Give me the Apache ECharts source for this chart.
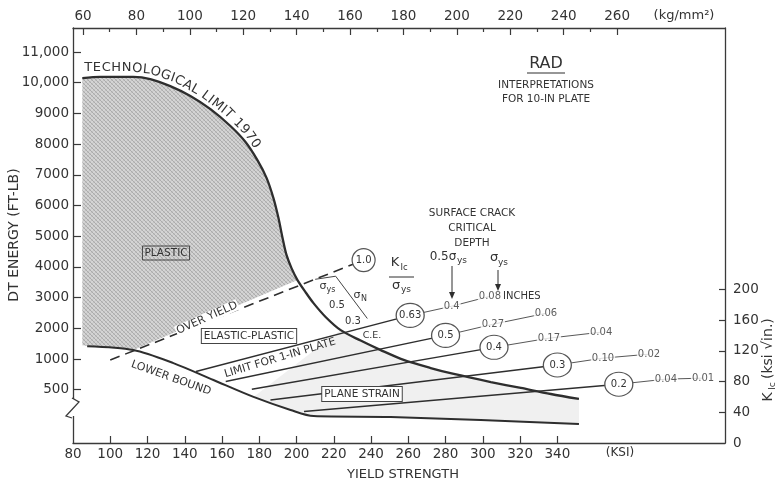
<!DOCTYPE html>
<html><head><meta charset="utf-8">
<script src="https://cdn.jsdelivr.net/npm/echarts@6/dist/echarts.min.js"></script>
<style>html,body{margin:0;padding:0;background:#fff}#c{width:779px;height:484px}</style>
</head><body><div id="c"></div>
<script>
// ---------------- data ----------------
const ksiTicks   = [80,100,120,140,160,180,200,220,240,260,280,300,320,340];
const ksiMarks   = [100,120,140,160,180,200,220,240,260,280,300,320,340];
const kgTicks    = [60,80,100,120,140,160,180,200,220,240,260];
const kgMinor    = [70,90,110,130,150,170,190,210,230,250];
const dtTicks    = [500,1000,2000,3000,4000,5000,6000,7000,8000,9000,10000,11000];
const kicTicks   = [0,40,80,120,160,200];

// technological limit 1970: [yield strength ksi, DT energy ft-lb]
const techLimit = [[85,10150],[94.6,10190],[105.4,10190],[112.4,10190],[121.5,10120],[132.2,9890],[143,9570],[153.8,9140],[164.5,8590],[172.6,8070],[179,7480],[183.9,6900],[187.6,6240],[190.3,5590],[192.5,4940],[194.6,4390],[197.3,3960],[200.5,3570],[204.8,3180],[209.1,2820],[215.6,2370],[223.7,1940],[234.4,1600],[245.2,1290],[257.5,985],[272,853],[284.4,756],[304.3,625],[320.4,528],[336.5,430],[351.6,349]];
// plastic region lower edge (over-yield line + lower bound), ft-lb
const plasticBase = [[112.4,1290],[100,1360],[88,1420],[85,1450]];
// lower bound curve: [ksi, K_Ic ksi*sqrt(in)]
const lowerBound = [[87.6,126],[112.4,121],[133.9,104],[155.4,82],[176.9,60],[196.8,43],[209.2,35],[250.5,33.8],[298.9,29.9],[351.6,24.7]];
// light plane-strain shading, [ksi, K_Ic]
const planeStrainShade = [[223.7,147],[245.2,121],[257.5,107],[284.4,89],[320.4,71],[351.6,57],[351.6,24.7],[298.9,29.9],[250.5,33.8],[209.2,35.1],[196.8,42.9],[176.9,59.8]];
// K_Ic / sigma_ys ratio lines [ksi, K_Ic]
const ratios      = ['1.0','0.63','0.5','0.4','0.3','0.2'];
const ratioStart  = [[100,108],[146,93],[162,80],[176,70],[186,56],[204,41]];
const ratioCircle = [[236,238],[261,166],[280,140],[306,124.5],[340,101.5],[373,76.5]];
// surface crack critical depth labels at 0.5 sigma_ys and sigma_ys (lines 0.63 .. 0.2)
const depthHalf       = [[283.3,178],[305.4,154.5],[335.5,136.4],[364.5,110.4],[398.3,83.1]];
const depthHalfLabels = ['0.4','0.27','0.17','0.10','0.04'];
const depthFull       = [[303.8,190.9],[333.9,168.8],[363.5,144.2],[389.2,115.6],[418.2,84.4]];
const depthFullLabels = ['0.08','0.06','0.04','0.02','0.01'];
// sigma_N bracket
const bracket = [[210,213],[221,217],[238,162]];

// DT axis is broken below 1000 ft-lb (500 takes a full step)
function toU(v){ return v >= 1000 ? v : 1000 - (1000 - v) * 2; }
function fromU(u){ return u >= 1000 ? u : 1000 - (1000 - u) / 2; }
function fmtDT(v){ v = Math.round(v); return v >= 10000 ? (v/1000) + ',000' : String(v); }

// ---------------- drawing ----------------
const F = '"DejaVu Sans", "Liberation Sans", sans-serif';
const INK = '#2e2e2e';
const chart = echarts.init(document.getElementById('c'), null, {renderer:'canvas'});

const pc = document.createElement('canvas'); pc.width = 4; pc.height = 4;
const pg = pc.getContext('2d');
pg.fillStyle = '#d4d4d4'; pg.fillRect(0,0,4,4);
for (let i=0;i<4;i++){ pg.fillStyle='#acacac'; pg.fillRect(i,i,1,1); pg.fillStyle='#c2c2c2'; pg.fillRect(i,3-i,1,1); }
const hatch = {image: pc, repeat: 'repeat'};

function T(x,y,text,size,o){
  o = o || {};
  const st = {text:text, fill:o.color||'#333', font:(o.weight||'normal')+' '+size+'px '+F,
    align:o.align||'center', verticalAlign:'middle'};
  if (o.box){ st.borderColor='#444'; st.borderWidth=1; st.padding=[2,2,1,2]; }
  if (o.bg){ st.backgroundColor=o.bg; if(!o.box) st.padding=[0,1]; }
  return {type:'text', x:x, y:y, rotation:o.rot||0, z:100, style:st};
}
function L(pts,w,o){ o=o||{}; return {type:'polyline', z:100, shape:{points:pts}, style:{stroke:o.color||INK, lineWidth:w, fill:null}}; }

const G = [];
// curved label along the technological limit
(function(){
  const txt = 'TECHNOLOGICAL LIMIT 1970';
  const path = [[84,68],[130,68],[150,70],[176,79],[203,94],[228,113],[247,132],[263,155]];
  const mc = document.createElement('canvas').getContext('2d');
  mc.font = '13px ' + F;
  function at(d){
    for (let i=0;i<path.length-1;i++){
      const dx=path[i+1][0]-path[i][0], dy=path[i+1][1]-path[i][1], l=Math.hypot(dx,dy);
      if (d<=l || i===path.length-2){ const t=d/l; return [path[i][0]+dx*t, path[i][1]+dy*t, Math.atan2(dy,dx)]; }
      d-=l;
    }
  }
  let d=0;
  for (const ch of txt){
    const w = mc.measureText(ch).width + 0.6;
    const p = at(d + w/2);
    if (ch !== ' ') G.push(T(p[0],p[1],ch,13,{rot:-p[2]}));
    d += w;
  }
})();
G.push(T(166,253,'PLASTIC',10.5,{box:true}));
G.push(T(249,336,'ELASTIC-PLASTIC',10.5,{box:true,bg:'#fff'}));
G.push(T(362,394,'PLANE STRAIN',10.5,{box:true,bg:'#fff'}));
G.push(T(207,318,'OVER YIELD',11,{rot:0.42,bg:'#fff'}));
G.push(T(280,358,'LIMIT FOR 1-IN PLATE',10.8,{rot:0.29}));
G.push(T(171,378,'LOWER BOUND',11,{rot:-0.34}));
G.push(T(372,336,'C.E.',9.5));
// sigma bracket labels
G.push(T(323,286,'σ',11), T(331,290,'ys',8));
G.push(T(357,295,'σ',11), T(364,299,'N',8));
G.push(T(337,305,'0.5',10), T(353,321,'0.3',10));
// title block
G.push(T(546,64,'RAD',16));
G.push(L([[527,73],[565,73]],1.2));
G.push(T(546,85,'INTERPRETATIONS',10.5));
G.push(T(546,99,'FOR 10-IN PLATE',10.5));
G.push(T(472,213,'SURFACE CRACK',10.5));
G.push(T(472,228,'CRITICAL',10.5));
G.push(T(472,243,'DEPTH',10.5));
G.push(T(443,257,'0.5σ',12), T(462,261,'ys',9));
G.push(T(494,258,'σ',13), T(503,263,'ys',9));
G.push(L([[452,266],[452,296]],1));
G.push({type:'polygon', z:100, shape:{points:[[449,292],[455,292],[452,299]]}, style:{fill:INK}});
G.push(L([[498,270],[498,288]],1));
G.push({type:'polygon', z:100, shape:{points:[[495,284],[501,284],[498,291]]}, style:{fill:INK}});
// K_Ic / sigma_ys
G.push(T(395,263,'K',13), T(404,268,'Ic',8.5));
G.push(L([[389,277],[414,277]],1));
G.push(T(396,286,'σ',13), T(406,290,'ys',9));
G.push(T(503,296,'INCHES',10,{align:'left'}));
// axis titles
G.push(T(620,453,'(KSI)',12));
G.push(T(403,475,'YIELD STRENGTH',13));
G.push(T(684,16,'(kg/mm²)',13));
G.push(T(14,235,'DT ENERGY (FT-LB)',14,{rot:Math.PI/2}));
G.push({type:'group', x:768, y:355, rotation:Math.PI/2, z:100, children:[
  {type:'text', x:-42, y:0, style:{text:'K', font:'14px '+F, fill:'#333', align:'center', verticalAlign:'middle'}},
  {type:'text', x:-31, y:5, style:{text:'Ic', font:'9px '+F, fill:'#333', align:'center', verticalAlign:'middle'}},
  {type:'text', x:-24, y:0, style:{text:'(ksi √in.)', font:'14px '+F, fill:'#333', align:'left', verticalAlign:'middle'}}
]});
// left axis break
G.push({type:'rect', z:99, shape:{x:68,y:399,width:8,height:17}, style:{fill:'#fff'}});
G.push(L([[72,398],[79,402],[66,416],[72,418]],1.3,{color:'#3a3a3a'}));

const axLine = {show:true, onZero:false, lineStyle:{color:'#3a3a3a', width:1.3}};
const tickSt = {color:'#3a3a3a', width:1.2};
const lab = {color:'#333', fontSize:13.5, fontFamily:F};

const series = [];
series.push({type:'custom', xAxisIndex:0, yAxisIndex:0, z:1, silent:true,
  data:[[techLimit[0][0], toU(techLimit[0][1])]],
  renderItem:function(params, api){
    const poly = techLimit.filter(p=>p[0]<=200.5).concat(plasticBase);
    return {type:'polygon', shape:{points:poly.map(p=>api.coord([p[0], toU(p[1])]))}, style:{fill:hatch}};
  }});
series.push({type:'custom', xAxisIndex:0, yAxisIndex:1, z:1, silent:true,
  data:[planeStrainShade[0]],
  renderItem:function(params, api){
    return {type:'polygon', shape:{points:planeStrainShade.map(p=>api.coord(p))}, style:{fill:'#f0f0f0'}};
  }});
series.push({type:'line', xAxisIndex:0, yAxisIndex:0, symbol:'none', smooth:0.3, z:4,
  data:techLimit.map(p=>[p[0], toU(p[1])]), lineStyle:{color:INK, width:2.3}});
series.push({type:'line', xAxisIndex:0, yAxisIndex:1, symbol:'none', smooth:0.3, z:4,
  data:lowerBound, lineStyle:{color:INK, width:2}});
ratios.forEach(function(r,i){
  series.push({type:'line', xAxisIndex:0, yAxisIndex:1, symbol:'none', z:3,
    data:[ratioStart[i], ratioCircle[i]],
    lineStyle: i===0 ? {color:INK, width:1.6, type:[10,6]} : {color:INK, width:1.4}});
  if (i>0) series.push({type:'line', xAxisIndex:0, yAxisIndex:1, symbol:'none', z:3,
    data:[ratioCircle[i], depthHalf[i-1], depthFull[i-1]], lineStyle:{color:'#444', width:0.9}});
});
series.push({type:'line', xAxisIndex:0, yAxisIndex:1, symbol:'none', z:3, data:bracket, lineStyle:{color:'#444', width:1}});
series.push({type:'scatter', xAxisIndex:0, yAxisIndex:1, z:6, silent:true,
  data: ratios.map((r,i)=>({name:r, value:ratioCircle[i], symbolSize: i===0?[23,23]:[28,24]})),
  itemStyle:{color:'#fff', borderColor:'#555', borderWidth:1.2, opacity:1},
  label:{show:true, position:'inside', formatter:'{b}', color:'#333', fontSize:10, fontFamily:F}});
series.push({type:'scatter', xAxisIndex:0, yAxisIndex:1, z:6, silent:true, symbolSize:1,
  data: depthHalf.map((p,i)=>({name:depthHalfLabels[i], value:p})).concat(depthFull.map((p,i)=>({name:depthFullLabels[i], value:p}))),
  itemStyle:{color:'rgba(0,0,0,0)'},
  label:{show:true, position:'inside', formatter:'{b}', color:'#333', fontSize:10, fontFamily:F, backgroundColor:'#fff', padding:[1,1]}});

chart.setOption({
  animation:false,
  backgroundColor:'#fff',
  textStyle:{fontFamily:F},
  grid:{left:73, right:54, top:28, bottom:41, containLabel:false, outerBoundsMode:'none'},
  xAxis:[
    {type:'value', position:'bottom', min:80, max:430, axisLine:axLine,
     axisTick:{show:true, inside:true, length:7, customValues:ksiMarks, lineStyle:tickSt},
     axisLabel:Object.assign({customValues:ksiTicks, margin:4}, lab), splitLine:{show:false}},
    {type:'value', position:'top', min:56.25, max:300.4, axisLine:axLine,
     axisTick:{show:true, inside:true, length:7, customValues:kgTicks, lineStyle:tickSt},
     axisLabel:Object.assign({customValues:kgTicks, margin:5}, lab), splitLine:{show:false}},
    {type:'value', position:'top', min:56.25, max:300.4, axisLine:{show:false, onZero:false},
     axisTick:{show:true, inside:true, length:4, customValues:kgMinor, lineStyle:tickSt},
     axisLabel:{show:false}, splitLine:{show:false}}
  ],
  yAxis:[
    {type:'value', position:'left', min:-1736, max:11782, axisLine:axLine,
     axisTick:{show:true, inside:true, length:8, customValues:dtTicks.map(toU), lineStyle:tickSt},
     axisLabel:Object.assign({customValues:dtTicks.map(toU), margin:4, formatter:u=>fmtDT(fromU(u))}, lab),
     splitLine:{show:false}},
    {type:'value', position:'right', min:0, max:540, axisLine:axLine,
     axisTick:{show:true, inside:true, length:6, customValues:kicTicks.slice(1), lineStyle:tickSt},
     axisLabel:Object.assign({customValues:kicTicks, margin:8}, lab), splitLine:{show:false}}
  ],
  series:series,
  graphic:{elements:G}
});
</script></body></html>
